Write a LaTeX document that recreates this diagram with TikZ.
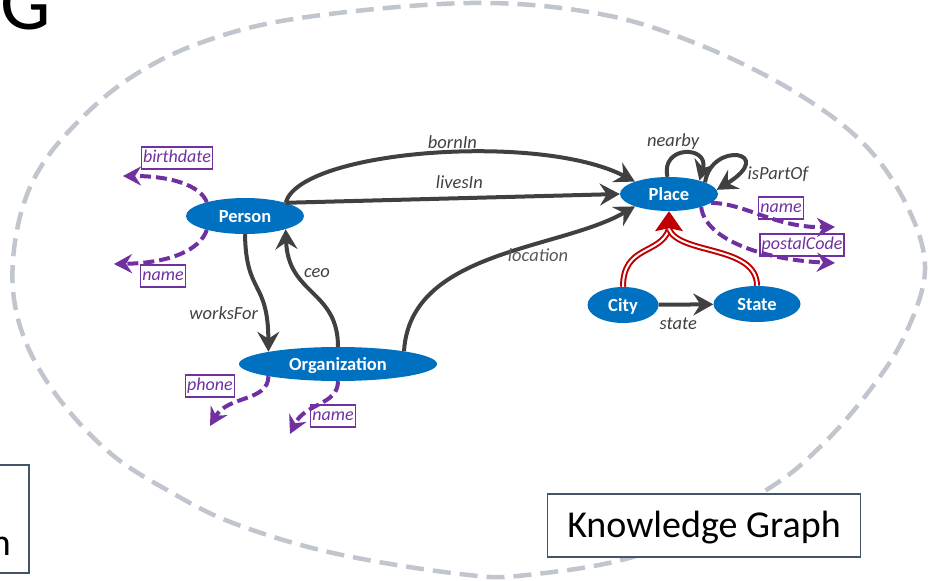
\documentclass[tikz,border=0pt]{standalone}
\usepackage{fontspec}
\setmainfont{Carlito}
\usetikzlibrary{arrows.meta,shapes.geometric,calc}

\definecolor{kgblue}{HTML}{0070C0}
\definecolor{kgpurple}{HTML}{7030A0}
\definecolor{kgred}{HTML}{C00000}
\definecolor{kgedge}{HTML}{404040}
\definecolor{kgloc}{HTML}{595959}
\definecolor{kgoutline}{HTML}{C0C5CE}
\definecolor{kgframe}{HTML}{44546A}

\begin{document}
\begin{tikzpicture}[x=1pt,y=-1pt,
    entity/.style={ellipse, fill=kgblue, text=white, inner sep=0pt,
      font=\fontsize{18.5}{20}\selectfont\bfseries, text height=12pt, text depth=0pt},
    rel/.style={draw=kgedge, line width=4pt,
      -{Stealth[length=20pt,width=22pt,inset=7pt]}},
    rellabel/.style={text=kgedge, font=\fontsize{18.5}{20}\selectfont\itshape, inner sep=1pt},
    prop/.style={draw=kgpurple, line width=4pt, dash pattern=on 11pt off 5pt,
      -{Stealth[length=18pt,width=19pt,inset=6pt]}},
    propbox/.style={draw=kgpurple, line width=1.3pt, text=kgpurple,
      font=\fontsize{18}{20}\selectfont\itshape, inner xsep=1.5pt, inner ysep=0pt,
      text height=13pt, text depth=4pt, minimum height=22pt},
    subclass/.style={draw=kgred, line width=2pt, double=white, double distance=2pt},
    bigtext/.style={font=\fontsize{38}{40}\selectfont, inner sep=0pt},
  ]

    \useasboundingbox (0,0) rectangle (930,581);

    % Title letter and the box on the left (cut off)
    \node[anchor=base east, inner sep=0pt, font=\fontsize{80}{80}\selectfont] (title) at (51,29) {G};
    \draw[kgframe, line width=1.3pt, fill=white] (-40,465) rectangle (29,573);
    \node[bigtext, anchor=base east] (lefttext) at (11,555) {n};

    % Dashed outline of the graph
    \draw[kgoutline, line width=4.5pt, dash pattern=on 18pt off 9pt]
      plot[smooth cycle, tension=0.6] coordinates {(470,3) (600,14) (700,45) (795,92)
      (865,145) (908,208) (925,270) (905,335) (870,390) (820,447) (763,492) (645,553)
      (527,575) (460,574) (333,553) (233,523) (167,490) (110,453) (60,400) (27,345)
      (13,290) (17,230) (35,177) (70,130) (127,80) (200,43) (300,18)};

    % Caption box
    \node[bigtext, draw=kgframe, fill=white, line width=1.3pt, minimum width=313pt,
      minimum height=63pt, text height=24.5pt, text depth=0pt] (kgbox) at (704,525.5) {Knowledge Graph};

    % Entities
    \node[entity, minimum width=118pt, minimum height=36pt] (person) at (245,216) {Person};
    \node[entity, minimum width=198pt, minimum height=34pt] (org) at (338,364) {Organization};
    \node[entity, minimum width=98pt, minimum height=34pt] (place) at (669,194) {Place};
    \node[entity, minimum width=71pt, minimum height=36pt] (city) at (623,305) {City};
    \node[entity, minimum width=87pt, minimum height=36pt] (state) at (757,304) {State};

    % Property labels
    \node[propbox] (birthdate) at (177,158) {birthdate};
    \node[propbox] (pname) at (163,276) {name};
    \node[propbox] (phone) at (210,386) {phone};
    \node[propbox] (oname) at (333,416) {name};
    \node[propbox] (plname) at (781,208) {name};
    \node[propbox] (postal) at (802,245) {postalCode};

    % Property arrows
    \coordinate (birthtip) at (123,176);
    \coordinate (pnametip) at (114,264);
    \coordinate (phonetip) at (210,426);
    \coordinate (onametip) at (290,434);
    \coordinate (plnametip) at (835,227);
    \coordinate (postaltip) at (835,263);
    \draw[prop] (person.160) .. controls (200,185) and (170,176) .. (birthtip);
    \draw[prop] (person.200) .. controls (200,250) and (170,263) .. (pnametip);
    \draw[prop] (org.190) .. controls (268,402) and (228,395) .. (phonetip);
    \draw[prop] (org.south) .. controls (338,405) and (305,403) .. (onametip);
    \draw[prop] (place.-12) .. controls (745,203) and (775,228) .. (plnametip);
    \draw[prop] (place.-22) .. controls (705,240) and (765,260) .. (postaltip);

    % Relations
    \draw[rel] (person.18) .. controls (300,150) and (540,132) .. (place.160)
      node[pos=0.55, above=1pt, rellabel] {bornIn};
    \draw[rel] (person.18) -- (place.west)
      node[pos=0.52, above=7pt, rellabel] {livesIn};
    \draw[rel] (org.11) .. controls (410,250) and (560,250) .. (place.200)
      node[pos=0.65, below=3pt, rellabel, text=kgloc] {location};
    \draw[rel] (person.south) .. controls (246,295) and (268,280) .. (org.170)
      node[pos=0.76, left=4pt, rellabel] {worksFor};
    \draw[rel] (org.north) .. controls (338,290) and (288,295) .. (person.-18)
      node[pos=0.7, right=3pt, rellabel] {ceo};
    \draw[rel] (place.95) .. controls (660,145) and (710,145) .. (place.24)
      node[pos=0.3, above=4pt, rellabel] {nearby};
    \draw[rel] (place.18) .. controls (712,140) and (778,152) .. (place.5)
      node[pos=0.75, right=3pt, yshift=-7pt, rellabel] {isPartOf};
    \draw[rel] (city) -- (state)
      node[pos=0.36, below=10pt, rellabel] {state};

    % Subclass links
    \coordinate (redbase) at ($(place.south)+(0,18)$);
    \draw[subclass] (city.north) .. controls (623,245) and (660,255) .. (redbase);
    \draw[subclass] (state.north) .. controls (757,245) and (680,255) .. (redbase);
    \fill[kgred] (place.south) -- ++(-14,20) -- ++(14,-3) -- ++(14,3) -- cycle;

\end{tikzpicture}
\end{document}
